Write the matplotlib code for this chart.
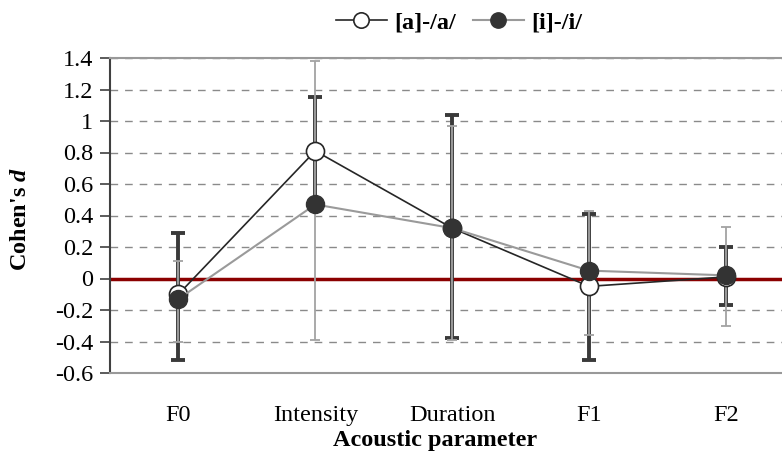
import numpy as np
import matplotlib
matplotlib.use("Agg")
import matplotlib.pyplot as plt

# ---- data ----
categories = ["F0", "Intensity", "Duration", "F1", "F2"]
a_label = "[a]-/a/"
a_vals = [-0.10, 0.81, 0.32, -0.05, 0.01]
a_lo = [-0.52, 0.47, -0.38, -0.52, -0.17]
a_hi = [0.29, 1.15, 1.04, 0.41, 0.20]
i_label = "[i]-/i/"
i_vals = [-0.13, 0.47, 0.32, 0.05, 0.02]
i_lo = [-0.40, -0.39, -0.39, -0.36, -0.30]
i_hi = [0.11, 1.38, 0.97, 0.43, 0.33]
ytick_vals = [-0.6, -0.4, -0.2, 0, 0.2, 0.4, 0.6, 0.8, 1, 1.2, 1.4]
ytick_labels = ["-0.6", "-0.4", "-0.2", "0", "0.2", "0.4", "0.6", "0.8", "1", "1.2", "1.4"]

plt.rcParams['font.family'] = ['Liberation Serif', 'DejaVu Serif']
plt.rcParams['mathtext.fontset'] = 'custom'
plt.rcParams['mathtext.it'] = 'Liberation Serif:italic:bold'
plt.rcParams['mathtext.rm'] = 'Liberation Serif:bold'

fig = plt.figure(figsize=(7.82, 4.54), dpi=100)
ax = fig.add_axes([110/782, 1-373/454, 1-110/782, (373-58)/454])

x = np.arange(len(categories))
av = np.array(a_vals); ai = np.array(i_vals)

# grid
ax.set_ylim(-0.6, 1.4)
ax.set_xlim(-0.5, 4.41)
ax.set_yticks(ytick_vals)
ax.set_yticklabels(ytick_labels)
for v in ytick_vals:
    if v == 0:
        continue
    ax.axhline(v, color='#8a8a8a', lw=1.0, ls=(0, (5.5, 5)), zorder=1)
ax.axhline(0, color='#8B0000', lw=2.5, zorder=1.5)

# error bars
ax.errorbar(x, av, yerr=[av - np.array(a_lo), np.array(a_hi) - av], fmt='none',
            ecolor='#3a3a3a', elinewidth=2.8, capsize=5, capthick=2.8, zorder=2)
ax.errorbar(x, ai, yerr=[ai - np.array(i_lo), np.array(i_hi) - ai], fmt='none',
            ecolor='#a3a3a3', elinewidth=1.3, capsize=3.6, capthick=1.3, zorder=2.5)

# series
ax.plot(x, av, color='#262626', lw=1.2, marker='o', ms=13, mfc='white',
        mec='#262626', mew=1.2, zorder=4, label=a_label)
ax.plot(x, ai, color='#9a9a9a', lw=1.5, marker='o', ms=13, mfc='#333333',
        mec='#333333', mew=1.0, zorder=5, label=i_label)

# spines
ax.spines['right'].set_visible(False)
ax.spines['top'].set_color('#999999'); ax.spines['top'].set_linewidth(1.5)
ax.spines['bottom'].set_color('#999999'); ax.spines['bottom'].set_linewidth(1.5)
ax.spines['left'].set_color('#404040'); ax.spines['left'].set_linewidth(1.5)

ax.set_xticks(x)
ax.set_xticklabels(categories)
ax.tick_params(axis='x', length=0, pad=23, labelsize=17.5)
ax.tick_params(axis='y', length=7, width=1.2, color='#404040', pad=5, labelsize=17.5)

ax.set_xlabel("Acoustic parameter", fontsize=17.5, fontweight='bold')
ax.xaxis.set_label_coords(0.484, -0.18)
ax.set_ylabel("Cohen's $d$", fontsize=17.5, fontweight='bold')
ax.yaxis.set_label_coords(-0.118, 0.49)

fig.legend(loc='center', bbox_to_anchor=(459/782, 1-22/454), ncol=2, frameon=False,
           prop={'weight': 'bold', 'size': 17.5}, handlelength=2.1, markerscale=0.85,
           handletextpad=0.3, columnspacing=0.7, borderaxespad=0)

fig.savefig("out.png", dpi=100)
